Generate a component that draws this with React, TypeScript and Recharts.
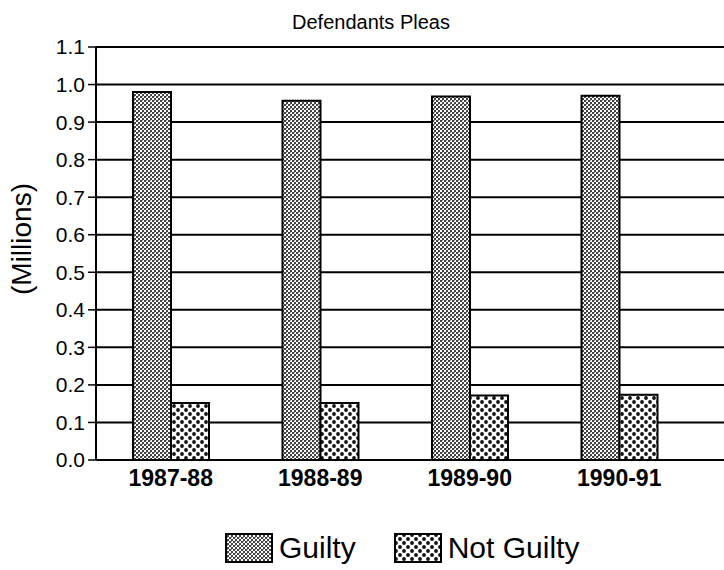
import React from 'react'
import { BarChart, Bar, XAxis, YAxis, CartesianGrid, Legend } from 'recharts'

const YEARS = ['1987-88', '1988-89', '1989-90', '1990-91']
const GUILTY = [0.98, 0.957, 0.968, 0.97]
const NOT_GUILTY = [0.152, 0.152, 0.172, 0.174]
const Y_TICKS = [0, 0.1, 0.2, 0.3, 0.4, 0.5, 0.6, 0.7, 0.8, 0.9, 1.0, 1.1]

const FONT = '"Liberation Sans", Arial, Helvetica, sans-serif'

const data = YEARS.map((year, i) => ({ year, guilty: GUILTY[i], notGuilty: NOT_GUILTY[i] }))

function Patterns({ prefix }: { prefix: string }) {
  return (
    <defs>
      <pattern id={`${prefix}-guilty`} width="4" height="4" patternUnits="userSpaceOnUse">
        <rect width="4" height="4" fill="#fff" />
        <rect x="0" y="0" width="2" height="2" fill="#444" />
        <rect x="2" y="2" width="2" height="2" fill="#444" />
        <rect x="2" y="0" width="1" height="1" fill="#999" />
      </pattern>
      <pattern id={`${prefix}-notguilty`} width="8" height="8" patternUnits="userSpaceOnUse">
        <rect width="8" height="8" fill="#fff" />
        <circle cx="2" cy="2" r="1.9" fill="#111" />
        <circle cx="6" cy="6" r="1.9" fill="#111" />
      </pattern>
    </defs>
  )
}

function PleaLegend() {
  const item = (id: string, label: string, gap: number) => (
    <div style={{ display: 'flex', alignItems: 'center', marginRight: gap }}>
      <svg width={48} height={30} style={{ display: 'block' }}>
        <Patterns prefix={`lg-${id}`} />
        <rect x={1} y={1} width={46} height={28} fill={`url(#lg-${id}-${id})`} stroke="#000" strokeWidth={2} />
      </svg>
      <span style={{ marginLeft: 6, fontSize: 30, color: '#000', fontFamily: FONT }}>{label}</span>
    </div>
  )
  return (
    <div style={{ display: 'flex', alignItems: 'center', height: 36 }}>
      {item('guilty', 'Guilty', 38)}
      {item('notguilty', 'Not Guilty', 0)}
    </div>
  )
}

export default function App() {
  return (
    <div style={{ position: 'absolute', left: 0, top: 0, width: 724, height: 570, background: '#fff' }}>
      <BarChart
        width={724}
        height={570}
        data={data}
        margin={{ top: 47, right: 0, bottom: 4, left: 0 }}
        barGap={0}
        barSize={38}
      >
        <Patterns prefix="ch" />
        <text x={371} y={29} textAnchor="middle" fontSize={20} fontFamily={FONT} fill="#000">
          Defendants Pleas
        </text>
        <text
          x={21}
          y={239}
          transform="rotate(-90 21 239)"
          textAnchor="middle"
          dominantBaseline="central"
          fontSize={28}
          fontFamily={FONT}
          fill="#000"
        >
          (Millions)
        </text>
        <CartesianGrid vertical={false} stroke="#000" strokeWidth={2} />
        <XAxis
          dataKey="year"
          axisLine={false}
          tickLine={false}
          tickSize={0}
          tickMargin={10}
          height={70}
          padding={{ left: 0, right: 30 }}
          tick={{ fontSize: 23, fontWeight: 'bold', fill: '#000', fontFamily: FONT }}
        />
        <YAxis
          width={96}
          domain={[0, 1.1]}
          ticks={Y_TICKS}
          interval={0}
          tickFormatter={(v: number) => v.toFixed(1)}
          axisLine={{ stroke: '#000', strokeWidth: 2 }}
          tickLine={{ stroke: '#000', strokeWidth: 1.5 }}
          tickSize={8}
          tickMargin={3}
          tick={{ fontSize: 21, fill: '#000', fontFamily: FONT }}
        />
        <Legend
          verticalAlign="bottom"
          content={() => <PleaLegend />}
          wrapperStyle={{ left: 225, width: 420, bottom: 4 }}
        />
        <Bar dataKey="guilty" name="Guilty" fill="url(#ch-guilty)" stroke="#000" strokeWidth={2} isAnimationActive={false} />
        <Bar dataKey="notGuilty" name="Not Guilty" fill="url(#ch-notguilty)" stroke="#000" strokeWidth={2} isAnimationActive={false} />
      </BarChart>
    </div>
  )
}
